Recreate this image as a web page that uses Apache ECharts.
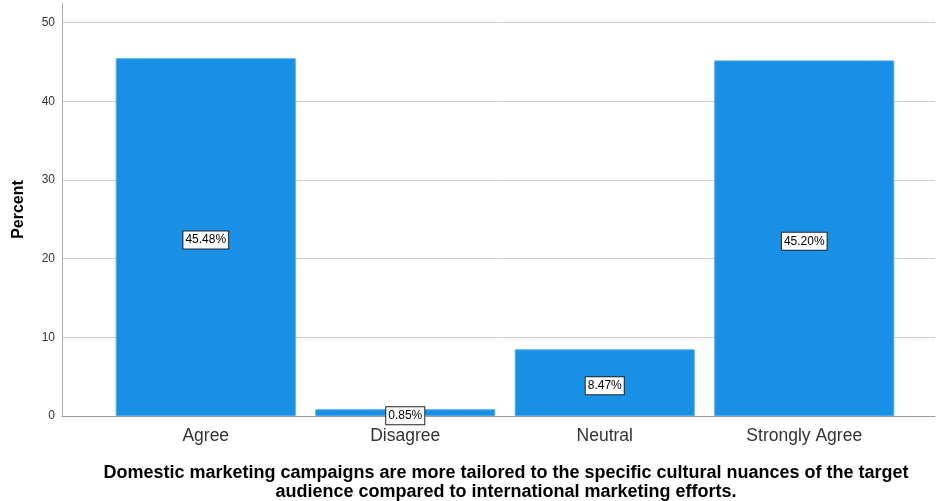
<!DOCTYPE html>
<html>
<head>
<meta charset="utf-8">
<script src="https://cdn.jsdelivr.net/npm/echarts@6/dist/echarts.min.js"></script>
<style>html,body{margin:0;padding:0;background:#fff}#c{width:936px;height:501px}</style>
</head>
<body>
<div id="c"></div>
<script>
const categories = ['Agree', 'Disagree', 'Neutral', 'Strongly Agree'];
const percentValues = [45.48, 0.85, 8.47, 45.20];
const yTickValues = [0, 10, 20, 30, 40, 50];
const yAxisTitle = 'Percent';
const chartTitle = 'Domestic marketing campaigns are more tailored to the specific cultural nuances of the target\naudience compared to international marketing efforts.';

const FONT = '"Liberation Sans", Arial, sans-serif';
const chart = echarts.init(document.getElementById('c'), null, {renderer: 'canvas'});
const yMax = 52.5;
const gridColors = yTickValues.map(() => '#cfcfcf').concat(['rgba(0,0,0,0)']);

chart.setOption({
  animation: false,
  backgroundColor: '#fff',
  grid: [
    {left: 62, right: 1, top: 3, bottom: 85},
    {left: 106, right: 32, top: 3, bottom: 85}
  ],
  xAxis: [
    {type: 'value', gridIndex: 0, min: 0, max: 1,
     axisLine: {show: true, lineStyle: {color: '#999', width: 1}},
     axisTick: {show: false}, axisLabel: {show: false}, splitLine: {show: false}},
    {type: 'category', gridIndex: 1, data: categories,
     axisLine: {show: false}, axisTick: {show: false},
     axisLabel: {fontFamily: FONT, fontSize: 17.5, color: '#333', margin: 11}}
  ],
  yAxis: [
    {type: 'value', gridIndex: 0, min: 0, max: yMax, interval: 10,
     name: yAxisTitle, nameLocation: 'middle', nameGap: 35,
     nameTextStyle: {fontFamily: FONT, fontSize: 16, fontWeight: 'bold', color: '#000'},
     axisLine: {show: true, lineStyle: {color: '#aaa', width: 1}},
     axisTick: {show: false},
     axisLabel: {fontFamily: FONT, fontSize: 12, color: '#333', margin: 7,
       formatter: v => (yTickValues.indexOf(v) >= 0 ? String(v) : '')},
     splitLine: {show: true, lineStyle: {color: gridColors, width: 1}}},
    {type: 'value', gridIndex: 1, min: 0, max: yMax, show: false}
  ],
  series: [{
    type: 'bar', xAxisIndex: 1, yAxisIndex: 1,
    data: percentValues,
    barWidth: 180,
    itemStyle: {color: '#1890e6', borderColor: '#4aa7ec', borderWidth: 1},
    label: {show: true, position: 'inside', offset: [0, 3],
      formatter: p => p.value.toFixed(2) + '%',
      fontFamily: FONT, fontSize: 12, color: '#000',
      backgroundColor: '#fff', borderColor: '#222', borderWidth: 1,
      padding: [3, 2, 2, 2]}
  }],
  graphic: [{
    type: 'text', x: 506, y: 464,
    style: {text: chartTitle, textAlign: 'center', textVerticalAlign: 'top',
      font: 'bold 18px ' + FONT, fill: '#000', lineHeight: 19}
  }]
});
</script>
</body>
</html>
